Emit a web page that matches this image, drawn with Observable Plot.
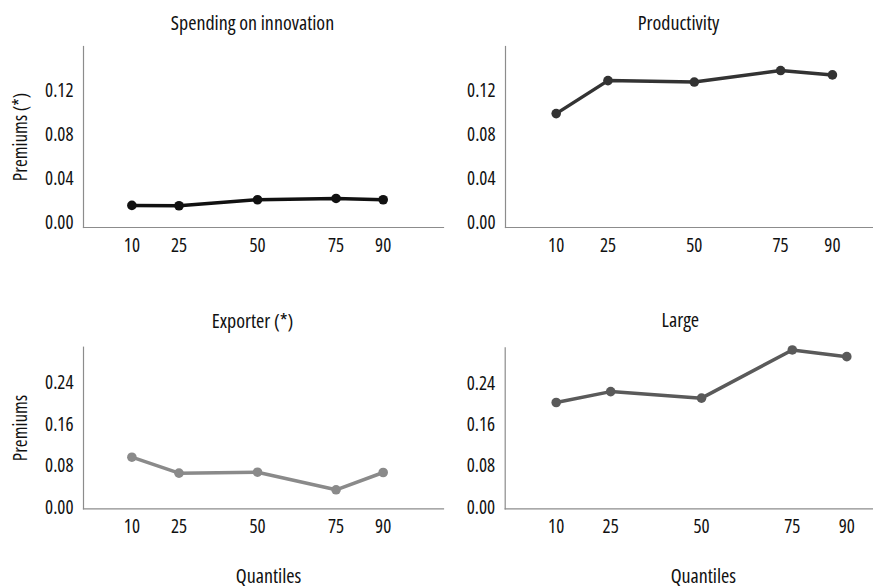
<!DOCTYPE html>
<html>
<head>
<meta charset="utf-8">
<script src="https://cdn.jsdelivr.net/npm/d3@7"></script>
<script src="https://cdn.jsdelivr.net/npm/@observablehq/plot@0.6"></script>
<style>
  html, body { margin: 0; padding: 0; background: #fff; }
  #chart { position: relative; width: 873px; height: 588px; overflow: hidden; }
  #chart svg { position: absolute; overflow: visible; font-stretch: 75%; }
  #chart svg text { font-stretch: 75%; }
</style>
</head>
<body>
<div id="chart"></div>
<script>
const quantiles = [10, 25, 50, 75, 90];
const spending = [0.0156, 0.0153, 0.0208, 0.0220, 0.0208];
const productivity = [0.0996, 0.1298, 0.1285, 0.1390, 0.1350];
const exporter = [0.0973, 0.0664, 0.0683, 0.0343, 0.0677];
const large = [0.2038, 0.2250, 0.2123, 0.3058, 0.2928];
const yTicksTop = [0, 0.04, 0.08, 0.12];
const yTicksBottom = [0, 0.08, 0.16, 0.24];

const FONT = "'Open Sans', 'Roboto', sans-serif";

const panels = [
  {title: "Spending on innovation", values: spending, color: "#111111", ticks: yTicksTop,
   left: 0, top: 0, width: 443, height: 290, mL: 83, mT: 46, mB: 63,
   xDomain: [-5.4, 109.2], yDomain: [-0.0046, 0.161], ylabel: "Premiums (*)",
   titleDx: -11, titleDy: -23, xlabel: null},
  {title: "Productivity", values: productivity, color: "#333333", ticks: yTicksTop,
   left: 443, top: 0, width: 430, height: 290, mL: 62, mT: 46, mB: 63,
   xDomain: [-4.68, 101.9], yDomain: [-0.0046, 0.161], ylabel: null,
   titleDx: -11, titleDy: -23, xlabel: null},
  {title: "Exporter (*)", values: exporter, color: "#8a8a8a", ticks: yTicksBottom,
   left: 0, top: 290, width: 443, height: 298, mL: 83, mT: 56.7, mB: 79.7,
   xDomain: [-5.4, 109.2], yDomain: [-0.0025, 0.310], ylabel: "Premiums",
   titleDx: -11, titleDy: -26, xlabel: "Quantiles", xlDx: 5},
  {title: "Large", values: large, color: "#5a5a5a", ticks: yTicksBottom,
   left: 443, top: 290, width: 430, height: 298, mL: 61.7, mT: 57.3, mB: 79.7,
   xDomain: [-4.04, 97.35], yDomain: [-0.0025, 0.310], ylabel: null,
   titleDx: -9, titleDy: -27, xlabel: "Quantiles", xlDx: 14}
];

const container = document.getElementById("chart");

for (const p of panels) {
  const data = quantiles.map((q, i) => ({q, v: p.values[i]}));
  const marks = [
    Plot.frame({anchor: "left", stroke: "#8c8c8c", strokeWidth: 1.2}),
    Plot.frame({anchor: "bottom", stroke: "#8c8c8c", strokeWidth: 1.2}),
    Plot.axisY({ticks: p.ticks, tickSize: 0, tickPadding: 10, tickFormat: d3.format(".2f"), label: null, fill: "#111", fontSize: 19}),
    Plot.axisX({ticks: quantiles, tickSize: 0, tickPadding: 11, tickFormat: d => String(d), label: null, fill: "#111", fontSize: 19}),
    Plot.line(data, {x: "q", y: "v", stroke: p.color, strokeWidth: 3.5, strokeLinejoin: "round"}),
    Plot.dot(data, {x: "q", y: "v", fill: p.color, r: 4.8}),
    Plot.text([p.title], {frameAnchor: "top", dx: p.titleDx, dy: p.titleDy, lineAnchor: "middle", fontSize: 20, fill: "#111"})
  ];
  if (p.ylabel) {
    marks.push(Plot.text([p.ylabel], {frameAnchor: "left", dx: -63, rotate: -90, textAnchor: "middle", lineAnchor: "middle", fontSize: 19, fill: "#111"}));
  }
  if (p.xlabel) {
    marks.push(Plot.text([p.xlabel], {frameAnchor: "bottom", dx: p.xlDx, dy: 68, lineAnchor: "middle", fontSize: 20, fill: "#111"}));
  }
  const svg = Plot.plot({
    width: p.width,
    height: p.height,
    marginLeft: p.mL,
    marginRight: 0,
    marginTop: p.mT,
    marginBottom: p.mB,
    style: {fontFamily: FONT, fontSize: "19px", fontStretch: "75%", background: "transparent", overflow: "visible"},
    x: {type: "linear", domain: p.xDomain},
    y: {domain: p.yDomain},
    marks
  });
  svg.style.left = p.left + "px";
  svg.style.top = p.top + "px";
  container.appendChild(svg);
}
</script>
</body>
</html>
